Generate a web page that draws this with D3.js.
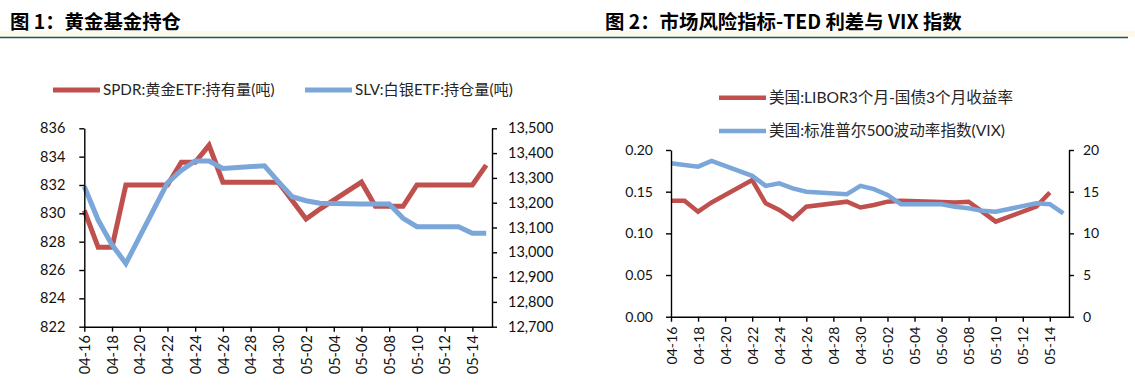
<!DOCTYPE html>
<html>
<head>
<meta charset="utf-8">
<script src="https://cdnjs.cloudflare.com/ajax/libs/d3/7.8.5/d3.min.js"></script>
<style>
  body { margin: 0; background: #fff; }
  svg { display: block; }
  .tick text { fill: #111; }
</style>
</head>
<body>
<svg id="chart" width="1135" height="385"></svg>
<script>
// trading days, 2024
const dates = ['04-16', '04-17', '04-18', '04-19', '04-22', '04-23', '04-24', '04-25', '04-26',
  '04-29', '04-30', '05-01', '05-02', '05-03', '05-06', '05-07', '05-08', '05-09', '05-10',
  '05-13', '05-14', '05-15'];
const tickLabels = ['04-16', '04-18', '04-20', '04-22', '04-24', '04-26', '04-28', '04-30',
  '05-02', '05-04', '05-06', '05-08', '05-10', '05-12', '05-14'];

// fig 1
const spdrHoldings = [830.2, 827.6, 827.6, 832.0, 832.0, 833.6, 833.6, 834.8, 832.2, 832.2, 832.2,
  830.9, 829.6, 830.3, 832.2, 830.5, 830.5, 830.5, 832.0, 832.0, 832.0, 833.4];
const slvHoldings = [13265, 13130, 13030, 12955, 13280, 13330, 13368, 13368, 13338, 13349, 13285,
  13224, 13208, 13198, 13195, 13195, 13195, 13137, 13103, 13103, 13077, 13077];
const spdrTicks = [822, 824, 826, 828, 830, 832, 834, 836];
const slvTicks = [12700, 12800, 12900, 13000, 13100, 13200, 13300, 13400, 13500];

// fig 2 (TED spread ends one day earlier)
const tedSpread = [0.139, 0.139, 0.126, 0.137, 0.164, 0.136, 0.128, 0.117, 0.132, 0.138, 0.131,
  0.134, 0.138, 0.139, 0.1375, 0.137, 0.138, 0.126, 0.114, 0.132, 0.149];
const vixIndex = [18.4, 18.2, 18.0, 18.7, 16.9, 15.7, 16.0, 15.4, 15.0, 14.7, 15.7,
  15.3, 14.6, 13.5, 13.5, 13.2, 13.0, 12.7, 12.6, 13.6, 13.5, 12.4];
const tedTicks = [0, 0.05, 0.10, 0.15, 0.20];
const vixTicks = [0, 5, 10, 15, 20];

const RED = '#c0504d';
const BLUE = '#7ba6da';
const FONT = "Lato, 'Noto Sans CJK SC', sans-serif";
const CJK = "'Noto Sans CJK SC', sans-serif";

const parseDay = (s) => d3.timeParse('%Y-%m-%d')('2024-' + s);
const svg = d3.select('#chart');

const drawHeader = (x, text) => {
  svg.append('text')
    .attr('x', x)
    .attr('y', 29)
    .attr('font-family', CJK)
    .attr('font-weight', 700)
    .attr('font-size', 19.4)
    .attr('fill', '#000')
    .text(text);
};

svg.append('rect').attr('x', 0).attr('y', 31).attr('width', 1135).attr('height', 6).attr('fill', '#fcf8ea');
svg.append('line')
  .attr('x1', 0).attr('x2', 1128).attr('y1', 37.5).attr('y2', 37.5)
  .attr('stroke', '#1d5262').attr('stroke-width', 1.5);
drawHeader(10, '图 1：黄金基金持仓');
drawHeader(605, '图 2：市场风险指标-TED 利差与 VIX 指数');

const styleAxis = (g, fontSize) => {
  g.select('.domain').attr('stroke', '#000').attr('stroke-width', 1.4);
  g.selectAll('.tick line').attr('stroke', '#000').attr('stroke-width', 1.4);
  g.selectAll('.tick text')
    .attr('font-family', FONT)
    .attr('font-size', fontSize)
    .attr('fill', '#111');
};

const drawPanel = (cfg) => {
  const x = d3.scaleTime()
    .domain([parseDay('04-16'), d3.timeHour.offset(parseDay('05-15'), 10)])
    .range([cfg.left, cfg.right]);
  const yL = d3.scaleLinear().domain(cfg.leftDomain).range([cfg.bottom, cfg.top]);
  const yR = d3.scaleLinear().domain(cfg.rightDomain).range([cfg.bottom, cfg.top]);

  const g = svg.append('g');

  // 1. series lines
  cfg.series.forEach((s) => {
    const scale = s.axis === 'left' ? yL : yR;
    const pts = s.values.map((v, i) => ({ date: parseDay(dates[i]), v }));
    g.append('path')
      .datum(pts)
      .attr('fill', 'none')
      .attr('stroke', s.color)
      .attr('stroke-width', cfg.lineWidth)
      .attr('stroke-linejoin', 'miter')
      .attr('d', d3.line().x((d) => x(d.date)).y((d) => scale(d.v)));
  });

  // 2. axes
  const axL = g.append('g')
    .attr('transform', `translate(${cfg.left},0)`)
    .call(d3.axisLeft(yL).tickValues(cfg.leftTicks).tickFormat(cfg.leftFormat)
      .tickSize(5).tickSizeOuter(0).tickPadding(cfg.leftPad));
  styleAxis(axL, cfg.fontSize);

  const axR = g.append('g')
    .attr('transform', `translate(${cfg.right},0)`)
    .call(d3.axisRight(yR).tickValues(cfg.rightTicks).tickFormat(cfg.rightFormat)
      .tickSize(5).tickSizeOuter(0).tickPadding(cfg.rightPad));
  styleAxis(axR, cfg.fontSize);

  const axB = g.append('g')
    .attr('transform', `translate(0,${cfg.bottom})`)
    .call(d3.axisBottom(x).tickValues(tickLabels.map(parseDay))
      .tickFormat(d3.timeFormat('%m-%d')).tickSize(5).tickSizeOuter(0));
  styleAxis(axB, cfg.xFontSize);
  axB.selectAll('.tick text')
    .attr('transform', 'rotate(-90)')
    .attr('text-anchor', 'end')
    .attr('x', -cfg.xLabelGap)
    .attr('y', 0)
    .attr('dy', '0.36em');

  // 3. legend
  cfg.series.forEach((s) => {
    g.append('line')
      .attr('x1', s.legend[0]).attr('x2', s.legend[0] + 47)
      .attr('y1', s.legend[1]).attr('y2', s.legend[1])
      .attr('stroke', s.color).attr('stroke-width', cfg.lineWidth);
    g.append('text')
      .attr('x', s.legend[0] + 50)
      .attr('y', s.legend[1])
      .attr('dy', '0.35em')
      .attr('font-family', FONT)
      .attr('font-size', cfg.legendSize)
      .attr('fill', '#262626')
      .text(s.name);
  });
};

drawPanel({
  left: 84.3, right: 492, top: 128.3, bottom: 326.7,
  leftDomain: [822, 836], rightDomain: [12700, 13500],
  leftTicks: spdrTicks, rightTicks: slvTicks,
  leftFormat: d3.format('d'), rightFormat: d3.format(','),
  leftPad: 14, rightPad: 11, fontSize: 14.5, xFontSize: 14.5, xLabelGap: 8.5,
  legendSize: 15.2, lineWidth: 5,
  series: [
    { name: 'SPDR:黄金ETF:持有量(吨)', values: spdrHoldings, axis: 'left', color: RED, legend: [53, 90] },
    { name: 'SLV:白银ETF:持仓量(吨)', values: slvHoldings, axis: 'right', color: BLUE, legend: [305, 90] }
  ]
});

drawPanel({
  left: 671, right: 1069, top: 150, bottom: 316.7,
  leftDomain: [0, 0.2], rightDomain: [0, 20],
  leftTicks: tedTicks, rightTicks: vixTicks,
  leftFormat: d3.format('.2f'), rightFormat: d3.format('d'),
  leftPad: 13, rightPad: 9, fontSize: 14, xFontSize: 14, xLabelGap: 10,
  legendSize: 15.6, lineWidth: 4.5,
  series: [
    { name: '美国:LIBOR3个月-国债3个月收益率', values: tedSpread, axis: 'left', color: RED, legend: [719, 97.7] },
    { name: '美国:标准普尔500波动率指数(VIX)', values: vixIndex, axis: 'right', color: BLUE, legend: [719, 131] }
  ]
});
</script>
</body>
</html>
